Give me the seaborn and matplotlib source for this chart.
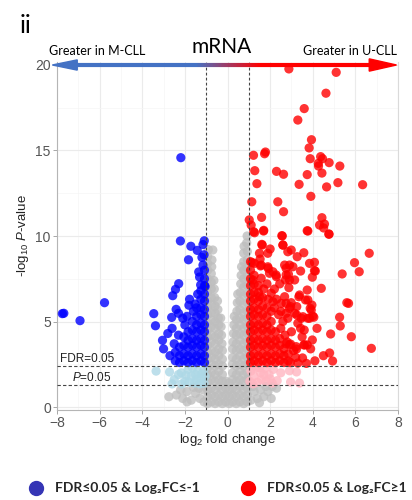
import numpy as np
import pandas as pd
import matplotlib
matplotlib.use("Agg")
import matplotlib.pyplot as plt
import seaborn as sns
from matplotlib.collections import LineCollection
from matplotlib.patches import Polygon
from matplotlib.lines import Line2D

# ---------------- data (log2 FC, -log10 P) ----------------
gray_pts = [
    # left arm
    (-0.93,0.2),(-0.93,0.6),(-0.93,1.0),(-0.93,1.5),(-0.93,1.9),(-0.93,2.3),(-0.93,2.8),(-0.93,3.2),
    (-0.93,3.6),(-0.93,4.1),(-0.93,4.5),(-0.93,4.9),(-0.93,5.4),(-0.93,5.8),(-0.93,6.2),(-0.93,6.7),
    (-0.93,7.1),(-0.93,7.5),(-0.93,8.0),(-0.93,8.4),(-0.93,8.8),(-0.90,9.2),
    (-0.76,0.3),(-0.76,0.7),(-0.76,1.1),(-0.76,1.6),(-0.76,2.0),(-0.76,2.5),(-0.76,2.9),(-0.76,3.3),
    (-0.76,3.8),(-0.76,4.2),(-0.76,4.7),(-0.76,5.1),(-0.76,5.5),(-0.76,6.0),(-0.76,6.4),(-0.76,6.9),
    (-0.76,7.3),(-0.76,7.8),(-0.74,8.2),(-0.73,8.6),(-0.69,9.18),
    (-0.58,0.2),(-0.58,0.6),(-0.58,1.0),(-0.58,1.5),(-0.58,1.9),(-0.58,2.4),(-0.58,2.8),(-0.58,3.2),
    (-0.58,3.7),(-0.58,4.1),(-0.58,4.6),(-0.58,5.0),(-0.58,5.5),(-0.58,5.9),(-0.60,6.4),(-0.62,6.9),
    (-0.64,7.4),
    (-0.41,0.3),(-0.41,0.7),(-0.41,1.2),(-0.41,1.6),(-0.41,2.1),(-0.41,2.5),(-0.41,3.0),(-0.41,3.4),
    (-0.41,3.9),(-0.41,4.3),(-0.41,4.8),(-0.43,5.2),(-0.45,5.7),(-0.47,6.2),
    (-0.24,0.2),(-0.24,0.6),(-0.24,1.0),(-0.24,1.5),(-0.24,1.9),(-0.24,2.4),(-0.24,2.8),(-0.24,3.3),
    (-0.26,3.7),(-0.28,4.2),(-0.30,4.7),(-0.32,5.2),
    # centre bottom
    (-0.08,0.3),(-0.08,0.7),(-0.08,1.1),(-0.07,1.5),(0.08,0.2),(0.08,0.6),(0.08,1.0),(0.07,1.4),
    # right arm
    (0.24,0.3),(0.24,0.7),(0.24,1.1),(0.24,1.6),(0.24,2.0),(0.24,2.5),(0.24,2.9),(0.24,3.4),
    (0.26,3.8),(0.28,4.3),(0.30,4.8),(0.32,5.3),
    (0.41,0.2),(0.41,0.6),(0.41,1.0),(0.41,1.5),(0.41,1.9),(0.41,2.4),(0.41,2.8),(0.41,3.3),
    (0.41,3.7),(0.41,4.2),(0.41,4.6),(0.42,5.1),(0.44,5.6),(0.46,6.1),(0.48,6.6),
    (0.58,0.3),(0.58,0.7),(0.58,1.2),(0.58,1.6),(0.58,2.1),(0.58,2.5),(0.58,3.0),(0.58,3.4),
    (0.58,3.9),(0.58,4.3),(0.58,4.8),(0.58,5.2),(0.58,5.7),(0.58,6.2),(0.60,6.7),(0.62,7.2),
    (0.64,7.7),(0.66,8.2),
    (0.76,0.2),(0.76,0.6),(0.76,1.0),(0.76,1.5),(0.76,1.9),(0.76,2.4),(0.76,2.8),(0.76,3.3),
    (0.76,3.7),(0.76,4.2),(0.76,4.6),(0.76,5.1),(0.76,5.5),(0.76,6.0),(0.76,6.5),(0.76,7.0),
    (0.76,7.5),(0.76,8.0),(0.76,8.5),(0.76,9.0),(0.78,9.4),
    (0.93,0.3),(0.93,0.7),(0.93,1.1),(0.93,1.6),(0.93,2.0),(0.93,2.5),(0.93,2.9),(0.93,3.4),
    (0.93,3.8),(0.93,4.3),(0.93,4.7),(0.93,5.2),(0.93,5.6),(0.93,6.1),(0.93,6.6),(0.93,7.1),
    (0.93,7.6),(0.93,8.1),(0.93,8.6),(0.93,9.1),(0.90,9.6),(0.92,10.0),
    # |FC|>1 but P>0.05
    (-2.75,0.6),(-2.4,0.7),(-2.1,0.5),(-1.9,0.9),(-1.7,0.4),(-1.5,0.8),(-1.3,0.5),(-1.15,1.0),
    (-1.1,0.3),(-1.35,1.1),(-1.6,1.15),(-1.9,0.3),(-2.2,1.0),(1.1,0.4),(1.25,0.9),(1.4,0.5),
    (1.55,1.0),(1.7,0.6),(1.9,0.9),(2.05,0.5),(2.3,1.1),(2.1,1.2),(1.2,1.2),(1.5,0.25),(1.8,1.2),
]

lblue_pts = [
    (-3.35,2.1),(-2.72,2.05),(-2.17,2.0),(-2.5,1.6),(-2.3,1.9),(-2.0,1.5),(-1.85,2.2),(-1.7,1.8),
    (-1.55,1.4),(-1.4,2.1),(-1.25,1.7),(-1.1,2.2),(-1.1,1.4),(-1.3,1.35),(-1.5,1.9),(-1.65,2.3),
    (-1.95,1.85),(-2.15,1.35),(-1.2,1.95),(-1.45,1.6),(-1.8,1.45),(-2.6,1.35),(-1.05,1.8),
]

pink_pts = [
    (1.05,1.5),(1.1,2.1),(1.25,1.8),(1.35,2.3),(1.4,1.45),(1.55,2.0),(1.6,1.6),(1.75,2.25),
    (1.8,1.5),(1.95,1.9),(2.1,1.4),(2.15,2.2),(1.2,1.35),(1.5,2.3),(1.7,1.9),(2.0,1.65),
    (2.33,1.54),(2.91,2.12),(3.24,2.05),(3.38,1.4),(2.96,1.46),(2.5,2.0),(1.15,2.3),
]

blue_pts = [
    (-1.08,2.6),(-1.08,3.0),(-1.08,3.5),(-1.08,3.9),(-1.08,4.4),(-1.08,4.8),(-1.08,5.3),(-1.08,5.7),
    (-1.08,6.2),(-1.08,6.6),(-1.08,7.1),(-1.08,7.5),(-1.08,8.0),
    (-1.25,2.7),(-1.25,3.1),(-1.25,3.6),(-1.25,4.0),(-1.25,4.5),(-1.25,4.9),(-1.25,5.4),(-1.25,5.8),
    (-1.25,6.3),(-1.25,6.8),
    (-1.45,2.6),(-1.45,3.0),(-1.45,3.5),(-1.45,3.9),(-1.45,4.4),(-1.45,4.8),(-1.45,5.3),(-1.45,5.8),
    (-1.65,2.7),(-1.65,3.1),(-1.65,3.6),(-1.65,4.0),(-1.65,4.5),(-1.65,5.0),
    (-1.85,2.6),(-1.85,3.0),(-1.85,3.5),(-1.85,3.9),(-1.85,4.4),
    (-2.05,2.7),(-2.05,3.1),(-2.05,3.6),(-2.05,4.1),
    (-2.25,2.6),(-2.25,3.0),(-2.25,3.5),(-2.45,2.7),(-2.45,3.2),
    (-2.19,14.58),(-2.21,9.71),(-1.72,9.40),(-1.42,9.16),(-1.15,9.5),(-1.09,9.72),(-1.83,8.61),
    (-1.2,8.75),(-1.35,7.9),(-1.31,7.6),(-2.29,7.21),(-2.44,6.88),(-2.57,6.51),(-1.05,7.05),
    (-1.26,7.14),(-5.77,6.10),(-7.68,5.48),(-7.75,5.46),(-6.92,5.05),(-3.46,5.46),(-3.38,4.75),
    (-1.78,6.30),(-1.81,5.95),(-1.52,6.02),(-2.41,5.71),(-2.30,5.48),(-2.62,5.24),(-2.10,5.19),
    (-3.05,3.9),(-3.0,3.4),(-2.8,4.3),(-2.6,4.6),(-2.3,4.2),(-2.5,3.7),(-2.7,3.0),(-1.6,5.6),
    (-2.0,4.8),(-1.9,5.3),(-1.15,8.3),(-1.4,6.6),(-1.1,8.9),
]

red_pts = [
    (1.08,2.6),(1.08,3.0),(1.08,3.5),(1.08,3.9),(1.08,4.4),(1.08,4.8),(1.08,5.3),(1.08,5.7),
    (1.08,6.2),(1.08,6.6),(1.08,7.1),(1.08,7.5),(1.08,8.0),(1.08,8.5),
    (1.25,2.7),(1.25,3.1),(1.25,3.6),(1.25,4.0),(1.25,4.5),(1.25,4.9),(1.25,5.4),(1.25,5.8),
    (1.25,6.3),(1.25,6.7),(1.25,7.2),(1.25,7.7),
    (1.45,2.6),(1.45,3.0),(1.45,3.5),(1.45,3.9),(1.45,4.4),(1.45,4.8),(1.45,5.3),(1.45,5.7),
    (1.45,6.2),(1.45,6.7),(1.45,7.1),
    (1.65,2.7),(1.65,3.1),(1.65,3.6),(1.65,4.0),(1.65,4.5),(1.65,4.9),(1.65,5.4),(1.65,5.9),(1.65,6.4),
    (1.85,2.6),(1.85,3.0),(1.85,3.5),(1.85,3.9),(1.85,4.4),(1.85,4.8),(1.85,5.3),(1.85,5.8),
    (2.05,2.7),(2.05,3.1),(2.05,3.6),(2.05,4.0),(2.05,4.5),(2.05,5.0),
    (2.25,2.6),(2.25,3.0),(2.25,3.5),(2.25,3.9),(2.25,4.4),
    (2.45,2.7),(2.45,3.1),(2.45,3.6),(2.45,4.0),(2.65,2.6),(2.65,3.0),(2.65,3.4),(2.85,2.7),(2.85,3.1),
    (2.5,4.6),(2.7,4.2),(2.8,3.8),(2.6,5.0),(2.4,5.4),(2.2,5.8),(3.0,4.4),(3.1,3.3),(3.2,2.9),
    (2.95,2.6),(3.5,4.1),(3.3,4.9),(2.5,5.6),(2.3,6.3),(2.05,5.6),(1.9,6.3),(1.7,6.9),(1.85,7.2),
    (2.2,6.9),(2.45,7.2),(3.6,4.5),(3.9,3.4),(4.2,4.6),(4.5,3.0),(4.1,2.7),(3.7,2.55),(2.75,3.7),
    (3.30,2.57),(3.52,2.87),(4.79,3.16),(4.93,2.69),(2.91,3.63),(3.24,3.39),(3.62,3.63),(3.98,3.92),
    (4.84,4.27),(5.81,4.11),(6.75,3.43),(3.58,3.63),(3.74,3.63),(3.22,3.53),(2.96,3.68),(3.43,4.60),
    (5.26,5.25),(5.29,4.74),(5.68,6.06),(5.38,7.78),(5.96,8.44),(6.18,7.91),(6.65,8.99),
    (3.85,5.19),(4.05,5.25),(2.83,5.19),(3.25,5.38),(3.46,5.19),(3.93,5.67),(3.96,5.96),(2.96,5.87),
    (2.75,6.06),(3.66,6.26),(3.35,6.45),(2.88,6.98),(3.74,6.84),(4.40,6.94),(3.15,7.43),(2.72,7.43),
    (3.98,7.59),(2.28,7.72),(2.13,7.91),(2.86,7.76),(2.75,8.11),(2.91,8.30),(3.43,7.95),(4.12,7.95),
    (4.08,8.46),(3.85,8.40),(3.58,9.02),(3.27,8.79),(2.99,9.18),(2.83,9.08),(1.91,8.11),(1.55,8.25),
    (1.16,8.44),(1.53,8.65),(1.50,8.99),(1.89,8.99),(2.0,9.24),(1.61,9.51),(2.60,9.47),(2.55,10.02),
    (1.23,10.25),(1.11,10.64),(1.02,10.94),(1.70,10.33),(3.74,10.31),(4.76,10.10),(4.51,10.47),
    (4.55,10.70),(4.32,10.64),(4.43,11.07),(1.60,11.09),(2.63,11.42),(2.36,12.0),(1.14,12.0),
    (1.27,10.19),(1.69,10.29),(2.57,10.0),(3.77,10.29),(4.76,10.12),(1.63,9.47),(2.6,9.47),
    (1.27,8.40),(1.58,8.30),(1.89,8.2),(2.68,8.30),(3.07,8.20),(4.08,7.97),(1.97,7.82),(2.29,7.62),
    (2.75,7.72),(2.91,7.43),(1.19,7.43),(1.58,7.53),(2.05,6.65),(1.50,6.45),(2.68,6.45),(3.38,6.55),
    (3.77,6.26),(2.13,6.16),(2.52,6.06),(2.99,6.10),(3.25,5.87),(3.88,5.77),(2.91,5.77),(2.75,5.48),
    (3.15,5.48),(3.54,5.28),(3.77,5.19),(4.0,5.32),(5.6,6.10),
    (1.22,14.72),(1.78,14.91),(1.74,14.81),(3.88,14.52),(4.37,14.64),(4.46,14.52),(4.26,14.25),
    (4.27,14.09),(4.77,14.29),(5.27,14.09),(1.28,13.82),(2.30,13.78),(2.63,13.61),(3.74,13.59),
    (4.43,13.68),(1.38,13.06),(3.36,13.02),(5.18,13.12),(6.34,13.0),(4.65,12.87),(3.91,12.32),
    (2.88,19.77),(5.10,19.57),(4.62,18.35),(3.60,17.45),(3.30,16.78),(3.94,15.63),(3.83,15.15),
]

x_ticks = [-8, -6, -4, -2, 0, 2, 4, 6, 8]
y_ticks = [0, 5, 10, 15, 20]
fc_cut = 1
fdr_line = 2.4
p_line = 1.3
legend_labels = ["FDR\u22640.05 & Log\u2082FC\u2264-1", "FDR\u22640.05 & Log\u2082FC\u22651"]

groups = [("ns", gray_pts), ("lblue", lblue_pts), ("pink", pink_pts), ("down", blue_pts), ("up", red_pts)]
df = pd.DataFrame([(x, y, g) for g, pts in groups for (x, y) in pts], columns=["lfc", "nlp", "grp"])
pal = {"ns": "#BEBEBE", "lblue": "#ADD8E6", "pink": "#FFB6C1", "down": "#0000FF", "up": "#FF0000"}

# ---------------- figure ----------------
sns.set_theme(style="whitegrid")
plt.rcParams["font.family"] = ["Liberation Sans", "DejaVu Sans"]
plt.rcParams["mathtext.fontset"] = "custom"
plt.rcParams["mathtext.rm"] = "Liberation Sans"
plt.rcParams["mathtext.it"] = "Liberation Sans:italic"

fig = plt.figure(figsize=(4.12, 5), dpi=100)
ax = fig.add_axes([57/412, (500-410)/500, 341/412, (410-62)/500])
ax.set_facecolor("white")

sns.scatterplot(data=df, x="lfc", y="nlp", hue="grp", palette=pal, s=44, alpha=0.8,
                linewidth=0, legend=False, ax=ax, zorder=3)

ax.set_xlim(-8, 8)
ax.set_ylim(-0.175, 20.175)
ax.set_xticks(x_ticks)
ax.set_yticks(y_ticks)
ax.set_xticks([-7, -5, -3, -1, 1, 3, 5, 7], minor=True)
ax.set_yticks([2.5, 7.5, 12.5, 17.5], minor=True)
ax.grid(True, which="major", color="#EBEBEB", lw=0.8)
ax.grid(True, which="minor", color="#F5F5F5", lw=0.5)
ax.tick_params(axis="both", which="major", labelsize=10, labelcolor="#555555", color="#999999",
               length=3, width=0.6, direction="out", pad=1.5, bottom=True, left=True)
ax.tick_params(which="minor", length=0)
for side in ["left", "bottom"]:
    ax.spines[side].set_color("#B5B5B5")
    ax.spines[side].set_linewidth(0.8)
ax.spines["right"].set_color("#DADADA")
ax.spines["right"].set_linewidth(0.8)
ax.spines["top"].set_visible(False)

# threshold lines
for xv in (-fc_cut, fc_cut):
    ax.axvline(xv, color="#444444", ls=(0, (2.5, 2)), lw=0.8, zorder=4)
for yv in (fdr_line, p_line):
    ax.axhline(yv, color="#444444", ls=(0, (3, 2)), lw=0.8, zorder=4)
ax.text(-7.84, fdr_line + 0.03, "FDR=0.05", fontsize=8.5, color="#222222", va="bottom", ha="left", zorder=5)
ax.text(-7.3, p_line + 0.03, "$P$=0.05", fontsize=8.5, color="#222222", va="bottom", ha="left", zorder=5)

ax.set_xlabel("log$_2$ fold change", fontsize=9.5, color="#222222", labelpad=1)
ax.set_ylabel("-log$_{10}$ $P$-value", fontsize=9.5, color="#222222", labelpad=3)

# gradient arrow along the top (y = 20)
xs = np.linspace(-7.2, 6.8, 200)
pts = np.column_stack([xs, np.full_like(xs, 20.0)])
segs = np.stack([pts[:-1], pts[1:]], axis=1)
c_blue = np.array([0.267, 0.447, 0.769])
c_red = np.array([1.0, 0.0, 0.0])
tt = np.clip((xs[:-1] + 1.5) / 3.0, 0, 1)
cols = [tuple(c_blue * (1 - t) + c_red * t) for t in tt]
lc = LineCollection(segs, colors=cols, linewidths=3, clip_on=False, zorder=6)
ax.add_collection(lc)
ax.add_patch(Polygon([[-8.22, 20.0], [-7.05, 20.3], [-7.05, 19.7]], closed=True,
                     color=c_blue, clip_on=False, zorder=7))
ax.add_patch(Polygon([[7.93, 20.0], [6.65, 20.36], [6.65, 19.64]], closed=True,
                     color=c_red, clip_on=False, zorder=7))

# header texts
tf = ["Lato", "DejaVu Sans"]
fig.text(20/412, 1 - 33/500, "ii", fontsize=18, family=tf, color="black", va="baseline", ha="left")
fig.text(222/412, 1 - 53/500, "mRNA", fontsize=15, family=tf, color="black", va="baseline", ha="center")
fig.text(49/412, 1 - 55/500, "Greater in M-CLL", fontsize=9, family=tf, color="black", va="baseline", ha="left")
fig.text(397/412, 1 - 55/500, "Greater in U-CLL", fontsize=9, family=tf, color="black", va="baseline", ha="right")

# legend at bottom
ly = 1 - 488/500
fig.add_artist(Line2D([36/412], [ly], marker="o", markersize=10, color="#3535B5", lw=0,
                      transform=fig.transFigure))
fig.add_artist(Line2D([248/412], [ly], marker="o", markersize=10, color="#FF0000", lw=0,
                      transform=fig.transFigure))
fig.text(55/412, ly, legend_labels[0], fontsize=10, family=tf, fontweight="bold", va="center", ha="left")
fig.text(267/412, ly, legend_labels[1], fontsize=10, family=tf, fontweight="bold", va="center", ha="left")

fig.savefig("out.png", dpi=100, facecolor="white")
